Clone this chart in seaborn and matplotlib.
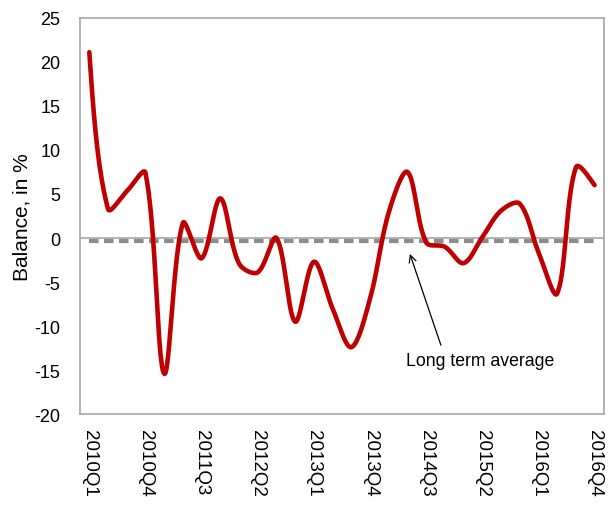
import numpy as np
import pandas as pd
import matplotlib
matplotlib.use("Agg")
import matplotlib.pyplot as plt
import seaborn as sns

# Quarterly balance of opinion, 2010Q1 - 2016Q4
quarters = [f"{y}Q{q}" for y in range(2010, 2017) for q in range(1, 5)]
balance = [21.1, 3.3, 5.3, 7.4, -15.4, 1.7, -2.3, 4.5,
           -2.9, -3.9, 0.0, -9.5, -2.7, -8.0, -12.4, -6.9,
           2.9, 7.5, -0.5, -1.0, -2.85, 0.1, 3.1, 3.9,
           -1.6, -6.3, 8.0, 6.0]
long_term_avg = -0.3
tick_every = 3

sns.set_style("white")
plt.rcParams["font.family"] = ["Liberation Sans", "DejaVu Sans"]
plt.rcParams["axes.unicode_minus"] = False
plt.rcParams["text.color"] = "black"
plt.rcParams["axes.labelcolor"] = "black"
plt.rcParams["xtick.color"] = "black"
plt.rcParams["ytick.color"] = "black"


def smooth_curve(y, sx=18.77, sy=8.8, steps=40):
    """Bezier smoothing through every point; control arms are weighted by
    the on-screen length of neighbouring segments (sx, sy: px per unit)."""
    y = np.asarray(y, dtype=float)
    n = len(y)
    P = np.column_stack([np.arange(n) * sx, y * sy])
    cin = P.copy()
    cout = P.copy()
    for i in range(1, n - 1):
        d = P[i + 1] - P[i - 1]
        la = np.linalg.norm(P[i] - P[i - 1])
        lb = np.linalg.norm(P[i + 1] - P[i])
        cin[i] = P[i] - d * la / (la + lb) / 3.0
        cout[i] = P[i] + d * lb / (la + lb) / 3.0
    cout[0] = P[0] + (cin[1] - P[0]) / 2.0
    cin[-1] = P[-1] + (cout[-2] - P[-1]) / 2.0
    xs, ys = [], []
    for i in range(n - 1):
        t = np.linspace(0, 1, steps, endpoint=(i == n - 2))[:, None]
        pts = ((1 - t) ** 3) * P[i] + 3 * ((1 - t) ** 2) * t * cout[i] \
            + 3 * (1 - t) * t ** 2 * cin[i + 1] + t ** 3 * P[i + 1]
        xs.append(pts[:, 0] / sx)
        ys.append(pts[:, 1] / sy)
    return np.concatenate(xs), np.concatenate(ys)


cx, cy = smooth_curve(balance)
curve = pd.DataFrame({"x": cx, "balance": cy})
avg_df = pd.DataFrame({"x": np.arange(len(quarters)),
                       "avg": [long_term_avg] * len(quarters)})

fig = plt.figure(figsize=(6.15, 5.1), dpi=100)
ax = fig.add_axes([0.130, 0.186, 0.852, 0.777])

ax.axhline(0, color="#a6a6a6", lw=1.2, zorder=1)
sns.lineplot(data=avg_df, x="x", y="avg", ax=ax, color="#8c8c8c", lw=3.0,
             linestyle=(0, (2.3, 1.3)), zorder=2)
ax.lines[-1].set_dash_capstyle("butt")
sns.lineplot(data=curve, x="x", y="balance", ax=ax, color="#c00000",
             lw=3.3, zorder=3, sort=False)

ax.set_xlim(-0.5, len(quarters) - 0.5)
ax.set_ylim(-20, 25)
ax.set_yticks(range(-20, 26, 5))
ax.set_xticks(range(0, len(quarters), tick_every))
ax.set_xticklabels(quarters[::tick_every], rotation=-90, fontsize=13.5)
ax.tick_params(axis="y", direction="in", length=4, width=1, color="#999999",
               labelcolor="black", pad=14, labelsize=13)
ax.tick_params(axis="x", length=0, pad=11, labelcolor="black")
ax.set_xlabel("")
ax.set_ylabel("Balance, in %", fontsize=15)
ax.yaxis.set_label_coords(-0.093, 0.5)

for s in ax.spines.values():
    s.set_color("#a6a6a6")
    s.set_linewidth(1.2)

ax.annotate("Long term average", xy=(17.13, -1.8), xytext=(20.9, -13.95),
            ha="center", va="center", fontsize=12.7, color="black",
            arrowprops=dict(arrowstyle="->", color="black", lw=0.9,
                            relpos=(0.25, 1.0), shrinkA=3, shrinkB=0))

fig.savefig("out.png", dpi=100)
